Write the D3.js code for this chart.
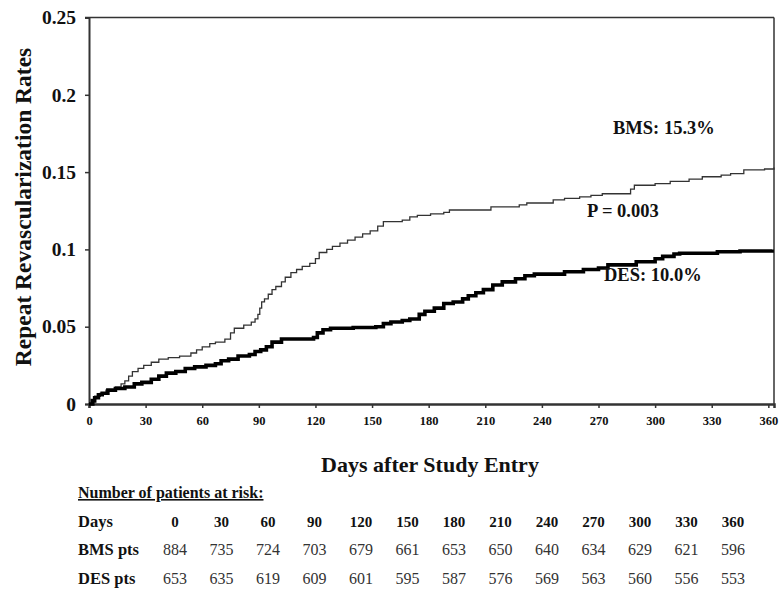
<!DOCTYPE html>
<html><head><meta charset="utf-8">
<script src="https://cdn.jsdelivr.net/npm/d3@7"></script>
<style>
body{margin:0;background:#fff;}
svg text{font-family:"Liberation Serif","Times New Roman",serif;}
</style></head>
<body><svg id="c" width="780" height="593"></svg>
<script>
const bmsDays = [0,1,3,6,9,14,17,19,21,23,26,29,33,37,42,48,54,57,60,64,67,72,75,77,82,86,88,89.5,90.5,91.5,93,95,97,99,102,104,107,110,113,117,120,122,126,129,133,137,141,145,149,153,156,166,170,174,181,188,191,213,228,232,246,252,260,266,272,287,289,300,308,318,325,335,340,347,358,363];
const bmsRate = [0,0.003,0.005,0.007,0.009,0.011,0.013,0.015,0.018,0.021,0.023,0.025,0.027,0.029,0.030,0.031,0.033,0.035,0.037,0.039,0.040,0.042,0.046,0.049,0.051,0.053,0.055,0.058,0.062,0.066,0.068,0.071,0.074,0.076,0.079,0.082,0.085,0.087,0.089,0.091,0.094,0.098,0.100,0.102,0.104,0.106,0.108,0.110,0.112,0.115,0.118,0.119,0.121,0.122,0.123,0.124,0.1255,0.1275,0.1288,0.130,0.132,0.133,0.134,0.135,0.136,0.139,0.1415,0.1425,0.144,0.1455,0.147,0.148,0.149,0.1515,0.152,0.153];
const desDays = [0,2,3,5,7,10,14,19,24,28,33,37,41,46,51,56,62,67,70,74,79,85,88,91,94,97,102,119,121,124,128,140,152,156,160,166,170,175,178,183,188,193,198,201,205,209,214,219,226,231,236,252,262,270,275,290,300,304,310,313,333,345,362];
const desRate = [0,0.002,0.004,0.006,0.007,0.009,0.010,0.011,0.013,0.014,0.016,0.018,0.020,0.021,0.023,0.024,0.025,0.026,0.028,0.029,0.031,0.032,0.034,0.035,0.037,0.040,0.042,0.043,0.046,0.048,0.049,0.0495,0.050,0.052,0.053,0.054,0.055,0.058,0.060,0.062,0.065,0.066,0.068,0.070,0.072,0.074,0.077,0.079,0.081,0.083,0.084,0.0855,0.087,0.088,0.090,0.092,0.094,0.0955,0.097,0.0975,0.0985,0.099,0.100];
const xTicks = [0,30,60,90,120,150,180,210,240,270,300,330,360];
const yTicks = [0,0.05,0.1,0.15,0.2,0.25];
const yTickLabels = ["0","0.05","0.1","0.15","0.2","0.25"];
const riskDays = ["0","30","60","90","120","150","180","210","240","270","300","330","360"];
const riskBMS = ["884","735","724","703","679","661","653","650","640","634","629","621","596"];
const riskDES = ["653","635","619","609","601","595","587","576","569","563","560","556","553"];
const rowLabels = ["Days","BMS pts","DES pts"];

const svg = d3.select("#c");
const L = 89, R = 774, T = 17.5, B = 404;
const x = d3.scaleLinear().domain([0,363]).range([L,R]);
const y = d3.scaleLinear().domain([0,0.25]).range([B,T]);

// top border & right border
svg.append("line").attr("x1",L-4).attr("x2",R).attr("y1",T).attr("y2",T).attr("stroke","#333").attr("stroke-width",1.5);
svg.append("line").attr("x1",R).attr("x2",R).attr("y1",T).attr("y2",B).attr("stroke","#333").attr("stroke-width",1.5);

// axes
const yAxis = d3.axisLeft(y).tickValues(yTicks).tickSize(4).tickFormat((d,i)=>yTickLabels[i]);
const gy = svg.append("g").attr("transform",`translate(${L},0)`).call(yAxis);
gy.select(".domain").attr("stroke","#333").attr("stroke-width",2);
gy.selectAll(".tick line").attr("stroke","#333").attr("stroke-width",1.5);
gy.selectAll(".tick text").attr("x",-13).attr("font-size",19.5).attr("font-weight","bold").attr("fill","#111");

const xAxis = d3.axisBottom(x).tickValues(xTicks).tickSize(4).tickFormat(d3.format("d"));
const gx = svg.append("g").attr("transform",`translate(0,${B})`).call(xAxis);
gx.select(".domain").attr("stroke","#333").attr("stroke-width",2.5);
gx.selectAll(".tick line").attr("stroke","#333").attr("stroke-width",1.5);
gx.selectAll(".tick text").attr("y",12).attr("font-size",12.5).attr("font-weight","bold").attr("fill","#111");

// curves
const line = d3.line().x(d=>x(d[0])).y(d=>y(d[1])).curve(d3.curveStepAfter);
svg.append("path").datum(bmsDays.map((d,i)=>[d,bmsRate[i]])).attr("d",line)
  .attr("fill","none").attr("stroke","#333").attr("stroke-width",1.3);
svg.append("path").datum(desDays.map((d,i)=>[d,desRate[i]])).attr("d",line)
  .attr("fill","none").attr("stroke","#000").attr("stroke-width",3.6);

// annotations
const ann = [["BMS: 15.3%",613,134],["P = 0.003",587,217],["DES: 10.0%",604,281]];
svg.selectAll(".ann").data(ann).enter().append("text")
  .attr("x",d=>d[1]).attr("y",d=>d[2]).text(d=>d[0])
  .attr("font-size",18.5).attr("font-weight","bold").attr("fill","#111");

// axis titles
svg.append("text").attr("transform","translate(31,207) rotate(-90)").attr("text-anchor","middle")
  .attr("font-size",23.5).attr("font-weight","bold").attr("fill","#111").text("Repeat Revascularization Rates");
svg.append("text").attr("x",430).attr("y",472).attr("text-anchor","middle")
  .attr("font-size",22).attr("font-weight","bold").attr("fill","#111").text("Days after Study Entry");

// risk table
svg.append("text").attr("x",78).attr("y",498).attr("font-size",16).attr("font-weight","bold")
  .attr("fill","#111").attr("text-decoration","underline").text("Number of patients at risk:");
const colX = d3.scalePoint().domain(riskDays).range([175,733]);
const rows = [riskDays,riskBMS,riskDES];
const rowY = [527,555,584];
rows.forEach((r,ri)=>{
  svg.append("text").attr("x",78).attr("y",rowY[ri]).attr("font-size",16.5).attr("font-weight","bold").attr("fill","#111").text(rowLabels[ri]);
  svg.selectAll(".r"+ri).data(r).enter().append("text")
    .attr("x",(d,i)=>colX(riskDays[i])).attr("y",rowY[ri]).attr("text-anchor","middle")
    .attr("font-size",ri===0?15:16).attr("font-weight",ri===0?"bold":"normal").attr("fill",ri===0?"#111":"#333").text(d=>d);
});
</script></body></html>
